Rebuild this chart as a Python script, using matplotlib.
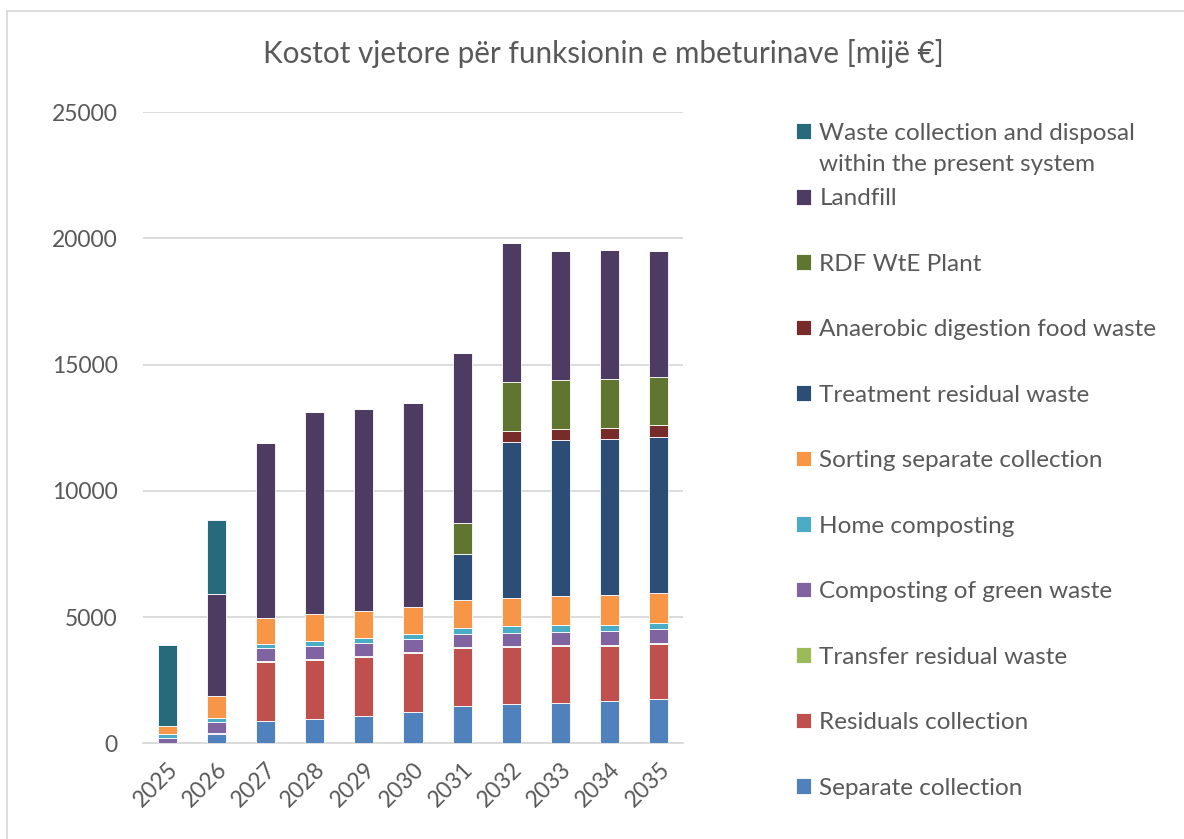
import numpy as np
import matplotlib.pyplot as plt
from matplotlib.patches import Rectangle

plt.rcParams['font.family'] = ['Lato', 'DejaVu Sans']

years = ['2025', '2026', '2027', '2028', '2029', '2030', '2031', '2032', '2033', '2034', '2035']

# kosto per funksion [mijë €], nga poshtë lart
separate = [0, 357, 872, 964, 1097, 1241, 1466, 1558, 1611, 1690, 1756]
residuals = [0, 66, 2338, 2325, 2311, 2325, 2298, 2245, 2232, 2153, 2166]
transfer = [0, 0, 50, 50, 40, 40, 40, 40, 50, 66, 53]
composting = [200, 410, 502, 502, 515, 515, 515, 515, 515, 541, 555]
home = [170, 185, 185, 225, 198, 225, 238, 277, 264, 251, 238]
sorting = [317, 845, 1030, 1043, 1070, 1070, 1109, 1109, 1149, 1175, 1175]
treatment = [0, 0, 0, 0, 0, 0, 1849, 6182, 6183, 6168, 6180]
anaerobic = [0, 0, 0, 0, 0, 0, 0, 436, 423, 436, 462]
rdf = [0, 0, 0, 0, 0, 0, 1215, 1941, 1955, 1941, 1928]
landfill = [0, 4041, 6921, 7991, 8014, 8069, 6734, 5507, 5111, 5124, 4980]
present = [3219, 2945, 0, 0, 0, 0, 0, 0, 0, 0, 0]

series = [
    ('Separate collection', separate, '#4F81BD'),
    ('Residuals collection', residuals, '#C0504D'),
    ('Transfer residual waste', transfer, '#9BBB59'),
    ('Composting of green waste', composting, '#8064A2'),
    ('Home composting', home, '#4BACC6'),
    ('Sorting separate collection', sorting, '#F79646'),
    ('Treatment residual waste', treatment, '#2C4D75'),
    ('Anaerobic digestion food waste', anaerobic, '#772C2A'),
    ('RDF WtE Plant', rdf, '#5F7530'),
    ('Landfill', landfill, '#4D3B62'),
    ('Waste collection and disposal', present, '#276A7C'),
]
label_wrap = 'within the present system'  # second line of the last label

txt = '#595959'
fig = plt.figure(figsize=(11.84, 8.39), dpi=100)
ax = fig.add_axes([0.1204, 0.1141, 0.4568, 0.7524])

x = np.arange(len(years))
bottom = np.zeros(len(years))
handles = []
for name, vals, col in series:
    b = ax.bar(x, vals, width=0.39, bottom=bottom, color=col, label=name,
               edgecolor='white', linewidth=0.6, zorder=3)
    bottom += np.array(vals)
    handles.append(b)

ax.set_ylim(0, 25000)
ax.set_xlim(-0.5, len(years) - 0.5)
ax.set_yticks(np.arange(0, 25001, 5000))
ax.yaxis.grid(True, color='#d9d9d9', linewidth=1.3, zorder=0)
ax.set_xticks(x)
ax.set_xticklabels(years, rotation=45, ha='right', rotation_mode='anchor')
ax.tick_params(axis='both', length=0, labelsize=16.5, colors=txt)
ax.tick_params(axis='y', pad=18)
ax.tick_params(axis='x', pad=11)
for s in ax.spines.values():
    s.set_visible(False)
ax.spines['bottom'].set_visible(True)
ax.spines['bottom'].set_color('#d9d9d9')
ax.spines['bottom'].set_linewidth(1.3)

fig.text(603 / 1184, 1 - 53 / 839, 'Kostot vjetore për funksionin e mbeturinave [mijë €]',
         ha='center', va='center', fontsize=21.3, color=txt)

leg = fig.legend(handles[::-1], [s[0] for s in series][::-1], loc='upper left',
                 bbox_to_anchor=(786 / 1184, 1 - 113 / 839), frameon=False,
                 fontsize=17.5, labelcolor=txt, handlelength=0.62, handleheight=0.62,
                 handletextpad=0.35, labelspacing=1.83, borderaxespad=0)

# second line of the first legend entry hangs below it, as in Excel
fig.canvas.draw()
first = leg.get_texts()[0]
bb = first.get_window_extent()
fig.text(bb.x0 / fig.bbox.width, (bb.y0 - 31) / fig.bbox.height, label_wrap,
         ha='left', va='bottom', fontsize=17.5, color=txt)

# chart border
fig.patches.append(Rectangle((7 / 1184, -0.1), 1.2, 1 - 11 / 839 + 0.1,
                             transform=fig.transFigure, fill=False,
                             edgecolor='#d9d9d9', linewidth=1.3))

fig.savefig('out.png', dpi=100)
